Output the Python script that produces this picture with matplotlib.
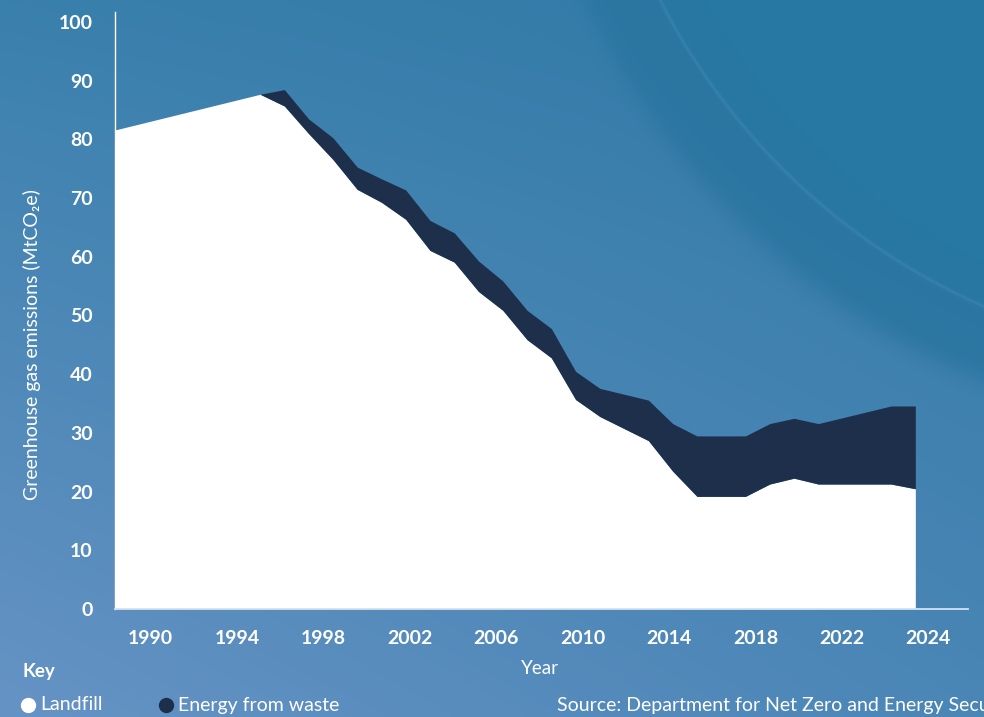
import numpy as np
import matplotlib
matplotlib.use("Agg")
import matplotlib.pyplot as plt
from matplotlib.colors import to_rgb

# UK waste-sector greenhouse gas emissions, MtCO2e
years = [1990, 1996, 1997, 1998, 1999, 2000, 2001, 2002, 2003, 2004, 2005,
         2006, 2007, 2008, 2009, 2010, 2012, 2013, 2014, 2016, 2017, 2018,
         2019, 2022, 2023]
landfill = [81.5, 87.6, 85.6, 80.9, 76.5, 71.4, 69.2, 66.3, 61.0, 59.0, 54.0,
            50.8, 45.8, 42.7, 35.6, 32.7, 28.6, 23.4, 19.1, 19.1, 21.2, 22.2,
            21.2, 21.2, 20.4]
energy_from_waste = [0.0, 0.0, 2.8, 2.5, 3.7, 3.8, 4.0, 5.0, 5.1, 5.0, 5.2,
                     5.0, 5.0, 5.0, 4.8, 4.8, 6.9, 8.1, 10.3, 10.3, 10.3, 10.2,
                     10.3, 13.3, 14.1]

tick_labels = ["1990", "1994", "1998", "2002", "2006", "2010", "2014",
               "2018", "2022", "2024"]
y_ticks = [0, 10, 20, 30, 40, 50, 60, 70, 80, 90, 100]

WHITE = "#ffffff"
NAVY = "#1e2f4b"
FONT = ["Lato", "DejaVu Sans"]
plt.rcParams["font.family"] = FONT

W, H = 984, 717
fig = plt.figure(figsize=(W / 100, H / 100), dpi=100)

# background: diagonal blue gradient with a curved darker sweep top right
yy, xx = np.mgrid[0:H, 0:W].astype(float)
u = xx / (W - 1)
v = yy / (H - 1)
tl, tr = np.array(to_rgb("#3a80ad")), np.array(to_rgb("#3079a6"))
bl, br = np.array(to_rgb("#6693c5")), np.array(to_rgb("#4a86b6"))
bg = (tl * ((1 - u) * (1 - v))[..., None] + tr * (u * (1 - v))[..., None]
      + bl * ((1 - u) * v)[..., None] + br * (u * v)[..., None])


def blend(img, colour, w):
    return img * (1 - w[..., None]) + np.array(to_rgb(colour)) * w[..., None]


d = np.hypot(xx - 1250, yy + 300) - 662
band = 1 / (1 + np.exp((d - 68) / 6))      # soft-edged shadow sweep
bg = blend(bg, "#2a75a1", band * 0.9)
inner = 1 / (1 + np.exp(d / 1.2))          # area above the highlight arc
bg = blend(bg, "#2778a3", inner)
glow = np.exp(-(d / 1.6) ** 2) * 0.22      # thin light arc
bg = blend(bg, "#5fa0cc", glow)

bax = fig.add_axes([0, 0, 1, 1], zorder=-1)
bax.imshow(np.clip(bg, 0, 1), extent=[0, W, H, 0], aspect="auto")
bax.axis("off")

# main chart area
ax = fig.add_axes([115 / W, (H - 609) / H, 853 / W, 597 / H])
ax.set_facecolor("none")
ax.stackplot(years, landfill, energy_from_waste, colors=[WHITE, NAVY],
             linewidth=0)
ax.set_xlim(1990, 2025.15)
ax.set_ylim(0, 101.7)

# year labels are spaced evenly across the axis
tick_pos = [1991.47 + 3.56 * i for i in range(len(tick_labels))]
ax.set_xticks(tick_pos, tick_labels)
ax.set_yticks(y_ticks, [str(t) for t in y_ticks])
ax.tick_params(length=0, colors=WHITE, labelsize=14)
ax.tick_params(axis="x", pad=15)
ax.tick_params(axis="y", pad=16)
for lab in ax.get_xticklabels() + ax.get_yticklabels():
    lab.set_fontweight("bold")

for side in ["top", "right"]:
    ax.spines[side].set_visible(False)
ax.spines["left"].set_color(WHITE)
ax.spines["left"].set_linewidth(1.0)
ax.spines["bottom"].set_color("#d6e2ee")
ax.spines["bottom"].set_linewidth(1.3)

fig.text(32 / W, 1 - 345 / H, "Greenhouse gas emissions (MtCO₂e)",
         rotation=90, ha="center", va="center", color=WHITE, fontsize=14)
fig.text(540 / W, 1 - 669 / H, "Year", ha="center", va="center",
         color=WHITE, fontsize=13.5)

# key
fig.text(22 / W, 1 - 671 / H, "Key", ha="left", va="center", color=WHITE,
         fontsize=13.5, fontweight="bold")
fig.add_artist(plt.Line2D([28 / W], [1 - 705 / H], marker="o", markersize=10,
                          color=WHITE, transform=fig.transFigure))
fig.text(40 / W, 1 - 705 / H, "Landfill", ha="left", va="center",
         color=WHITE, fontsize=14)
fig.add_artist(plt.Line2D([166 / W], [1 - 705 / H], marker="o", markersize=10,
                          color=NAVY, transform=fig.transFigure))
fig.text(178 / W, 1 - 705 / H, "Energy from waste", ha="left", va="center",
         color=WHITE, fontsize=14)

fig.text(557 / W, 1 - 705 / H,
         "Source: Department for Net Zero and Energy Security",
         ha="left", va="center", color=WHITE, fontsize=14)

fig.savefig("out.png", dpi=100)
